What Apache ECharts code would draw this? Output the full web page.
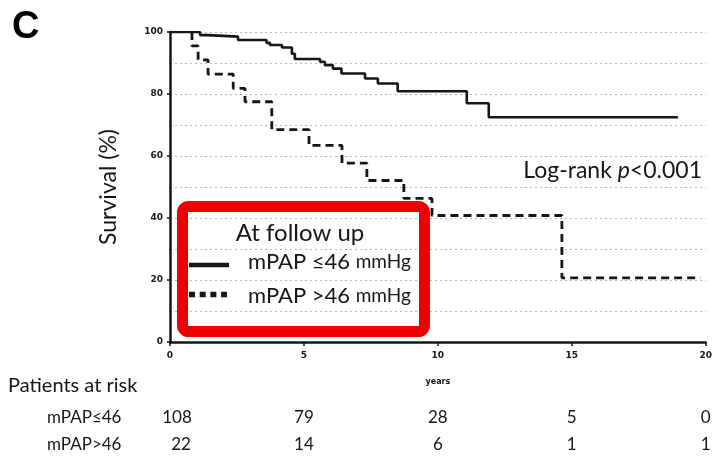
<!DOCTYPE html>
<html>
<head>
<meta charset="utf-8">
<script src="https://cdn.jsdelivr.net/npm/echarts@6/dist/echarts.min.js"></script>
<style>
  html, body { margin: 0; padding: 0; background: #fff; }
  #chart { width: 715px; height: 458px; }
</style>
</head>
<body>
<div id="chart"></div>
<script>
// Kaplan–Meier survival by mPAP at follow-up (time in years, survival in %)
var lowTimes  = [0, 1.12, 1.42, 2.54, 3.6, 3.73, 4.18, 4.55, 4.66, 5.6, 5.78, 6.08, 6.4, 7.28, 7.76, 8.5, 11.08, 11.9, 18.96];
var lowSurv   = [100, 99, 98.5, 97.4, 96.5, 95.8, 95, 93, 91.3, 90.4, 89.3, 88.2, 86.6, 85, 83.4, 80.9, 77, 72.5, 72.5];
var highTimes = [0.82, 0.82, 1.05, 1.42, 2.36, 2.8, 3.8, 5.19, 6.42, 7.35, 8.73, 9.78, 14.63, 19.8];
var highSurv  = [100, 95.5, 91, 86.4, 81.8, 77.5, 68.5, 63.4, 57.7, 52.1, 46.3, 40.8, 20.7, 20.7];

// Numbers at risk below the time axis
var riskTimes = [0, 5, 10, 15, 20];
var riskLow   = [108, 79, 28, 5, 0];
var riskHigh  = [22, 14, 6, 1, 1];
var riskLabels = ['mPAP≤46', 'mPAP>46'];

var FONT = 'Lato, "Open Sans", sans-serif';
var INK = '#161616';

function pairs(xs, ys) {
  return xs.map(function (x, i) { return [x, ys[i]]; });
}

var chart = echarts.init(document.getElementById('chart'));

chart.setOption({
  animation: false,
  backgroundColor: '#ffffff',
  grid: { left: 170, right: 9, top: 32, bottom: 116 },
  xAxis: {
    type: 'value', min: 0, max: 20, interval: 5,
    name: 'years', nameLocation: 'middle', nameGap: 36,
    nameTextStyle: { fontFamily: 'DejaVu Sans', fontWeight: 'bold', fontSize: 8, color: INK },
    axisLine: { show: true, lineStyle: { color: INK, width: 2.5 } },
    axisTick: { show: true, length: 4, inside: false, lineStyle: { color: INK, width: 1.5 } },
    axisLabel: { fontFamily: 'DejaVu Sans', fontWeight: 'bold', fontSize: 9, color: INK, margin: 9 },
    splitLine: { show: false }
  },
  yAxis: {
    type: 'value', min: 0, max: 100, interval: 20,
    name: 'Survival (%)', nameLocation: 'middle', nameGap: 50, nameRotate: 90,
    nameTextStyle: { fontFamily: FONT, fontSize: 23, color: INK },
    axisLine: { show: true, lineStyle: { color: INK, width: 2.5 } },
    axisTick: { show: true, length: 3, lineStyle: { color: INK, width: 1.5 } },
    axisLabel: { fontFamily: 'DejaVu Sans', fontWeight: 'bold', fontSize: 9, color: INK, margin: 7 },
    splitLine: { show: true, lineStyle: { color: '#b8b8b8', type: [2, 3], width: 1 } },
    minorTick: { show: false, splitNumber: 2 },
    minorSplitLine: { show: true, lineStyle: { color: '#b8b8b8', type: [2, 3], width: 1 } }
  },
  series: [
    {
      name: 'mPAP >46 mmHg', type: 'line', step: 'end', showSymbol: false,
      data: pairs(highTimes, highSurv),
      lineStyle: { color: INK, width: 2.8, type: [8, 5] }, z: 3
    },
    {
      name: 'mPAP ≤46 mmHg', type: 'line', step: 'end', showSymbol: false,
      data: pairs(lowTimes, lowSurv),
      lineStyle: { color: INK, width: 2.6 }, z: 4
    }
  ]
});

// Risk table positioned against the time axis
var graphics = [];
var rowY = [418, 445];
var firstColShift = [7, 11];
[riskLow, riskHigh].forEach(function (row, r) {
  graphics.push({
    type: 'text', x: 47, y: rowY[r],
    style: { text: riskLabels[r], fontFamily: FONT, fontSize: 17, fill: INK, verticalAlign: 'middle' }
  });
  row.forEach(function (n, i) {
    var px = chart.convertToPixel({ xAxisIndex: 0 }, riskTimes[i]);
    graphics.push({
      type: 'text', x: px + (i === 0 ? firstColShift[r] : 0), y: rowY[r],
      style: { text: String(n), fontFamily: FONT, fontSize: 17, fill: INK, align: 'center', verticalAlign: 'middle' }
    });
  });
});

graphics.push(
  { type: 'text', left: 12, top: 9, style: { text: 'C', fontFamily: 'Liberation Sans, Arial, sans-serif', fontWeight: 'bold', fontSize: 38, fill: '#000' } },
  { type: 'text', x: 8, y: 386, style: { text: 'Patients at risk', fontFamily: FONT, fontSize: 20, fill: INK, verticalAlign: 'middle' } },
  {
    type: 'text', x: 702, y: 171,
    style: {
      text: '{a|Log-rank }{p|p}{a|<0.001}', align: 'right', verticalAlign: 'middle',
      rich: {
        a: { fontFamily: FONT, fontSize: 23, fill: INK },
        p: { fontFamily: FONT, fontSize: 23, fontStyle: 'italic', fill: INK }
      }
    }
  },
  // legend frame
  {
    type: 'rect', shape: { x: 182.5, y: 206.5, width: 242, height: 125, r: 6 },
    style: { fill: 'none', stroke: '#ee0000', lineWidth: 11 }, z: 10
  },
  { type: 'text', x: 300, y: 233, z: 11, style: { text: 'At follow up', fontFamily: FONT, fontSize: 24, fill: INK, align: 'center', verticalAlign: 'middle' } },
  { type: 'line', shape: { x1: 189, y1: 265, x2: 229, y2: 265 }, style: { stroke: INK, lineWidth: 4.5 }, z: 11 },
  { type: 'line', shape: { x1: 189, y1: 294.5, x2: 227, y2: 294.5 }, style: { stroke: INK, lineWidth: 5.5, lineDash: [6, 4.7] }, z: 11 },
  {
    type: 'text', x: 248, y: 262, z: 11,
    style: {
      text: '{a|mPAP ≤46 }{b|mmHg}', verticalAlign: 'middle',
      rich: { a: { fontFamily: FONT, fontSize: 22, fill: INK }, b: { fontFamily: FONT, fontSize: 19, fill: INK } }
    }
  },
  {
    type: 'text', x: 248, y: 295.5, z: 11,
    style: {
      text: '{a|mPAP >46 }{b|mmHg}', verticalAlign: 'middle',
      rich: { a: { fontFamily: FONT, fontSize: 22, fill: INK }, b: { fontFamily: FONT, fontSize: 19, fill: INK } }
    }
  }
);

chart.setOption({ graphic: graphics });
</script>
</body>
</html>
